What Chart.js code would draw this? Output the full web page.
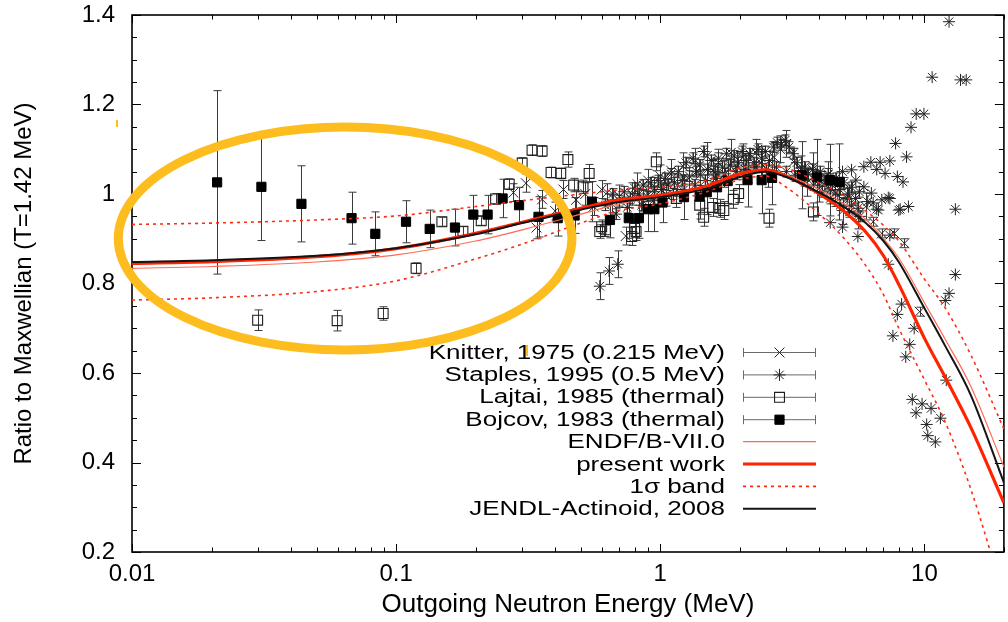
<!DOCTYPE html>
<html>
<head>
<meta charset="utf-8">
<title>Ratio to Maxwellian</title>
<script src="https://cdn.jsdelivr.net/npm/chart.js"></script>
<style>
    html, body { margin: 0; padding: 0; background: #fff; overflow: hidden; }
    #wrap { position: relative; width: 1012px; height: 622px; }
</style>
</head>
<body>
<div id="wrap"><canvas id="chart"></canvas></div>
<script>
// ---- data (outgoing neutron energy in MeV, ratio to Maxwellian) ----
const xTickValues = [0.01, 0.1, 1, 10];
const yTickValues = [0.2, 0.4, 0.6, 0.8, 1, 1.2, 1.4];

const curveE      = [0.01, 0.02, 0.05, 0.1, 0.2, 0.3, 0.5, 0.7, 1, 1.5, 2, 2.5, 3, 4, 5, 6, 7, 8, 10, 12, 15, 20];
const presentWork = [0.845, 0.849, 0.86, 0.878, 0.912, 0.937, 0.968, 0.987, 0.997, 1.018, 1.045, 1.054, 1.04, 1.0, 0.96, 0.915, 0.862, 0.798, 0.678, 0.59, 0.478, 0.31];
const jendl       = [0.848, 0.852, 0.862, 0.879, 0.91, 0.935, 0.965, 0.982, 0.993, 1.012, 1.038, 1.05, 1.038, 1.003, 0.97, 0.935, 0.895, 0.848, 0.745, 0.66, 0.55, 0.355];
const endf        = [0.834, 0.838, 0.848, 0.864, 0.895, 0.92, 0.955, 0.978, 0.993, 1.012, 1.038, 1.05, 1.042, 1.01, 0.977, 0.943, 0.9, 0.857, 0.757, 0.675, 0.57, 0.39];
const bandHi      = [0.932, 0.935, 0.942, 0.951, 0.972, 0.985, 1.0, 1.009, 1.015, 1.03, 1.058, 1.066, 1.058, 1.025, 0.995, 0.962, 0.93, 0.895, 0.81, 0.745, 0.64, 0.475];
const bandLo      = [0.763, 0.768, 0.782, 0.806, 0.855, 0.888, 0.935, 0.963, 0.978, 1.005, 1.032, 1.04, 1.015, 0.955, 0.899, 0.84, 0.775, 0.70, 0.585, 0.49, 0.34, 0.10];

const bojcovE   = [0.021, 0.0309, 0.0438, 0.0678, 0.0834, 0.109, 0.134, 0.167, 0.196, 0.222, 0.253, 0.292, 0.346, 0.409, 0.474, 0.551, 0.645, 0.76, 0.83, 0.899, 0.95, 1.02, 1.23, 1.41, 1.50, 1.64, 1.80, 2.14, 2.42, 2.65, 3.44, 3.92, 4.40, 4.77];
const bojcovR   = [1.026, 1.016, 0.978, 0.946, 0.911, 0.938, 0.922, 0.925, 0.954, 0.954, 0.990, 0.975, 0.949, 0.946, 0.952, 0.983, 0.942, 0.946, 0.946, 0.966, 0.966, 0.981, 0.993, 0.994, 1.004, 1.015, 1.029, 1.031, 1.031, 1.036, 1.042, 1.037, 1.031, 1.027];
const bojcovErr = [0.205, 0.12, 0.085, 0.058, 0.049, 0.047, 0.042, 0.041, 0.043, 0.043, 0.043, 0.040, 0.045, 0.040, 0.040, 0.045, 0.040, 0.045, 0.045, 0.050, 0.050, 0.045, 0.050, 0.050, 0.050, 0.050, 0.050, 0.060, 0.075, 0.060, 0.075, 0.085, 0.080, 0.085];

const lajtaiE   = [0.0299, 0.0598, 0.0893, 0.119, 0.149, 0.179, 0.21, 0.238, 0.268, 0.30, 0.327, 0.357, 0.386, 0.42, 0.447, 0.47, 0.51, 0.538, 0.59, 0.60, 0.62, 0.78, 0.80, 0.81, 0.966, 1.15, 1.41, 1.46, 1.58, 1.68, 1.74, 1.89, 1.98, 2.58, 3.8];
const lajtaiR   = [0.718, 0.717, 0.733, 0.834, 0.938, 0.917, 0.940, 0.989, 1.022, 1.069, 1.098, 1.096, 1.048, 1.046, 1.077, 1.020, 1.016, 1.046, 0.916, 0.927, 0.920, 0.905, 0.923, 0.916, 1.072, 0.990, 0.975, 0.948, 0.970, 0.968, 0.963, 0.988, 1.001, 0.946, 0.960];
const lajtaiErr = [0.023, 0.023, 0.015, 0.012, 0.010, 0.010, 0.010, 0.012, 0.012, 0.012, 0.012, 0.012, 0.012, 0.012, 0.017, 0.015, 0.015, 0.020, 0.015, 0.015, 0.015, 0.020, 0.020, 0.020, 0.020, 0.020, 0.020, 0.020, 0.020, 0.020, 0.020, 0.020, 0.020, 0.020, 0.020];

const knitterE   = [0.278, 0.31, 0.34, 0.357, 0.40, 0.43, 0.48, 0.52, 0.56, 0.60, 0.63, 0.655, 0.70, 0.74, 0.78, 0.82, 0.86, 0.90, 0.95, 1.0,
                    1.05, 1.1, 1.16, 1.22, 1.28, 1.35, 1.42, 1.5, 1.58, 1.66, 1.75, 1.85, 1.95, 2.05, 2.15, 2.3, 2.4, 2.55, 2.7, 2.85,
                    3.0, 3.2, 3.4, 3.6, 3.8, 4.0, 4.3, 4.6, 4.9, 5.2, 5.6, 6.0, 6.4, 6.9, 7.7, 8.4, 9.6];
const knitterR   = [1.003, 1.024, 0.925, 0.988, 0.962, 1.01, 0.987, 1.0, 0.972, 1.01, 1.003, 0.978, 0.995, 0.906, 1.0, 1.022, 0.985, 1.03, 1.012, 1.04,
                    0.998, 1.052, 1.02, 1.062, 1.034, 1.072, 1.044, 1.085, 1.052, 1.07, 1.045, 1.092, 1.062, 1.082, 1.055, 1.092, 1.07, 1.045, 1.082, 1.1,
                    1.112, 1.072, 1.055, 1.025, 1.062, 1.012, 1.042, 1.002, 0.962, 0.99, 0.952, 0.972, 0.938, 0.912, 0.912, 0.89, 0.737];
const knitterErr = [0.020, 0.020, 0.025, 0.020, 0.020, 0.020, 0.020, 0.025, 0.020, 0.020, 0.020, 0.020, 0.025, 0.020, 0.025, 0.025, 0.025, 0.025, 0.025, 0.025,
                    0.025, 0.025, 0.025, 0.030, 0.025, 0.030, 0.025, 0.030, 0.025, 0.030, 0.030, 0.030, 0.030, 0.030, 0.030, 0.030, 0.030, 0.030, 0.030, 0.030,
                    0.030, 0.030, 0.030, 0.030, 0.030, 0.030, 0.030, 0.030, 0.030, 0.030, 0.030, 0.030, 0.010, 0.010, 0.010, 0.010, 0.010];

const staplesE = [0.62, 0.66, 0.70, 0.73, 0.77, 0.80, 0.83, 0.86, 0.89, 0.92, 0.95, 0.98, 1.01, 1.04, 1.07, 1.10, 1.13, 1.17, 1.21, 1.25,
                  1.29, 1.33, 1.37, 1.41, 1.46, 1.51, 1.56, 1.61, 1.66, 1.72, 1.78, 1.84, 1.90, 1.97, 2.04, 2.11, 2.18, 2.26, 2.34, 2.42,
                  2.50, 2.59, 2.68, 2.77, 2.87, 2.97, 3.07, 3.18, 3.29, 3.40, 3.52, 3.64, 3.77, 3.90, 4.03, 4.17, 4.32, 4.47, 4.62, 4.78,
                  4.95, 5.12, 5.30, 5.48, 5.67,
                  0.68, 0.75, 0.85, 0.94, 1.03, 1.12, 1.23, 1.35, 1.48, 1.62, 1.76, 1.93, 2.1, 2.3, 2.52, 2.75, 3.0, 3.25, 3.5, 3.8,
                  4.1, 4.4, 4.8, 5.2, 5.7,
                  0.59, 0.64, 0.69,
                  5.9, 6.27, 6.6, 6.8, 7.1, 7.4, 7.78, 7.9, 8.3, 8.56, 8.9, 9.31, 9.96, 10.7, 12.4, 13.7, 14.4, 7.3, 8.1, 8.7,
                  13.1, 6.6, 5.6, 7.3, 13.1, 12.4, 12.0, 8.2, 7.9, 7.6, 9.15, 8.8, 8.5, 12.1, 9.0, 9.8, 10.6, 9.3, 11.5, 10.2,
                  10.3, 11.0, 4.9, 4.4,
                  3.98, 4.2, 4.4, 4.7, 4.9, 5.1, 5.3, 5.3, 5.5, 5.6, 5.9, 6.1, 6.3, 6.4, 6.7, 6.9, 7.4, 7.4, 8.0];
const staplesR = [0.975, 1.0, 0.985, 1.005, 0.99, 1.013, 1.0, 1.02, 0.995, 1.025, 1.005, 1.03, 1.01, 1.035, 1.02, 1.045, 1.025, 1.05, 1.03, 1.07,
                  1.04, 1.08, 1.05, 1.065, 1.095, 1.055, 1.075, 1.05, 1.08, 1.06, 1.09, 1.065, 1.085, 1.07, 1.095, 1.075, 1.09, 1.07, 1.1, 1.08,
                  1.095, 1.075, 1.105, 1.115, 1.11, 1.12, 1.105, 1.09, 1.07, 1.05, 1.06, 1.045, 1.055, 1.04, 1.05, 1.03, 1.045, 1.02, 1.035, 1.01,
                  1.025, 1.0, 1.015, 0.99, 1.005,
                  0.955, 0.97, 0.975, 0.985, 0.99, 1.0, 1.01, 1.02, 1.03, 1.035, 1.045, 1.05, 1.055, 1.06, 1.055, 1.06, 1.05, 1.04, 1.03, 1.02,
                  1.005, 0.99, 0.975, 0.96, 0.95,
                  0.794, 0.828, 0.843,
                  1.061, 1.071, 1.055, 1.071, 1.046, 1.074, 1.113, 1.039, 1.027, 1.083, 1.149, 1.179, 1.179, 1.261, 1.385, 1.255, 1.255, 0.992, 0.966, 0.972,
                  0.966, 0.966, 0.905, 0.843, 0.82, 0.778, 0.762, 0.754, 0.731, 0.683, 0.700, 0.664, 0.636, 0.584, 0.541, 0.531, 0.521, 0.511, 0.499, 0.485,
                  0.46, 0.446, 0.926, 0.936,
                  1.031, 1.02, 1.009, 0.998, 1.05, 0.99, 1.054, 0.975, 1.031, 0.968, 1.016, 0.983, 1.002, 0.98, 0.964, 0.987, 0.99, 0.908, 0.964];
const staplesErr = [0.012, 0.012, 0.012, 0.012, 0.012, 0.012, 0.012, 0.012, 0.012, 0.012, 0.012, 0.012, 0.012, 0.012, 0.012, 0.012, 0.012, 0.012, 0.012, 0.012,
                    0.012, 0.012, 0.012, 0.012, 0.012, 0.012, 0.012, 0.012, 0.012, 0.012, 0.012, 0.012, 0.012, 0.012, 0.012, 0.012, 0.012, 0.012, 0.012, 0.012,
                    0.012, 0.012, 0.012, 0.012, 0.012, 0.012, 0.012, 0.012, 0.012, 0.012, 0.012, 0.012, 0.012, 0.012, 0.012, 0.012, 0.012, 0.012, 0.012, 0.012,
                    0.012, 0.012, 0.012, 0.012, 0.012,
                    0.012, 0.012, 0.012, 0.012, 0.012, 0.012, 0.012, 0.012, 0.012, 0.012, 0.012, 0.012, 0.012, 0.012, 0.012, 0.012, 0.012, 0.012, 0.012, 0.012,
                    0.012, 0.012, 0.012, 0.012, 0.012,
                    0.030, 0.030, 0.030,
                    0, 0, 0, 0, 0, 0, 0, 0, 0, 0, 0, 0, 0, 0, 0, 0, 0, 0, 0, 0,
                    0, 0, 0, 0, 0, 0, 0, 0, 0, 0, 0, 0, 0, 0, 0, 0, 0, 0, 0, 0,
                    0, 0, 0, 0,
                    0, 0, 0, 0, 0, 0, 0, 0, 0, 0, 0, 0, 0, 0, 0, 0, 0, 0, 0];

const legendOrder = ['Knitter, 1975 (0.215 MeV)', 'Staples, 1995 (0.5 MeV)', 'Lajtai, 1985 (thermal)', 'Bojcov, 1983 (thermal)',
                     'ENDF/B-VII.0', 'present work', '1\u03c3 band', 'JENDL-Actinoid, 2008'];

// ellipse drawn over the low-energy region (data units)
const ellipseCentre = [0.0641, 0.9006];
const ellipseEdges = { left: 0.00887, right: 0.463, top: 1.149, bottom: 0.651 };

const pts = (xs, ys) => xs.map((x, i) => ({ x: x, y: ys[i] }));

Chart.defaults.font.family = "'Liberation Sans', Arial, Helvetica, sans-serif";
Chart.defaults.color = '#000';

// inward gnuplot style ticks on all four sides + frame
const frame = {
    id: 'frame',
    beforeDatasetsDraw(chart) {
        const { ctx, chartArea: a, scales: { x, y } } = chart;
        ctx.save();
        ctx.strokeStyle = '#000';
        ctx.lineWidth = 1;
        const seg = (x1, y1, x2, y2) => { ctx.beginPath(); ctx.moveTo(x1, y1); ctx.lineTo(x2, y2); ctx.stroke(); };
        for (let v = 0.2; v <= 1.4001; v += 0.05) {
            const major = yTickValues.some(t => Math.abs(t - v) < 1e-6);
            const len = major ? 9 : 5;
            const p = Math.round(y.getPixelForValue(v)) + 0.5;
            seg(a.left, p, a.left + len, p);
            seg(a.right, p, a.right - len, p);
        }
        xTickValues.forEach(d => {
            for (let k = 1; k <= 9; k++) {
                const v = d * k;
                if (v > 20.0001) break;
                const len = k === 1 ? 8 : 4.5;
                const p = Math.round(x.getPixelForValue(v)) + 0.5;
                seg(p, a.bottom, p, a.bottom - len);
                seg(p, a.top, p, a.top + len);
            }
        });
        ctx.lineWidth = 1.6;
        ctx.strokeRect(a.left, a.top, a.right - a.left, a.bottom - a.top);
        ctx.restore();
    }
};

// vertical error bars with caps
const errorBars = {
    id: 'errorBars',
    beforeDatasetsDraw(chart) {
        const { ctx, chartArea: a, scales: { y } } = chart;
        ctx.save();
        ctx.beginPath();
        ctx.rect(a.left, a.top, a.right - a.left, a.bottom - a.top);
        ctx.clip();
        ctx.strokeStyle = '#3a3a3a';
        ctx.lineWidth = 1;
        chart.data.datasets.forEach((ds, i) => {
            if (!ds.errors) return;
            const meta = chart.getDatasetMeta(i);
            meta.data.forEach((el, j) => {
                const e = ds.errors[j];
                if (!e) return;
                const v = ds.data[j].y;
                const px = Math.round(el.x) + 0.5;
                const hi = y.getPixelForValue(v + e);
                const lo = y.getPixelForValue(v - e);
                ctx.beginPath();
                ctx.moveTo(px, hi); ctx.lineTo(px, lo);
                ctx.moveTo(px - 4, hi); ctx.lineTo(px + 4, hi);
                ctx.moveTo(px - 4, lo); ctx.lineTo(px + 4, lo);
                ctx.stroke();
            });
        });
        ctx.restore();
    }
};

// gnuplot-like key: text right aligned, sample on the right
const key = {
    id: 'key',
    afterDatasetsDraw(chart) {
        const { ctx } = chart;
        const textRight = 725, sx1 = 743, sx2 = 816, y0 = 352, pitch = 22.4;
        ctx.save();
        legendOrder.forEach((label, i) => {
            const ds = chart.data.datasets.find(d => d.label === label);
            const yy = y0 + i * pitch;
            ctx.save();
            ctx.translate(textRight, yy);
            ctx.scale(1.3, 1);
            ctx.font = "20px 'Liberation Sans', Arial, sans-serif";
            ctx.fillStyle = '#000';
            ctx.textAlign = 'right';
            ctx.textBaseline = 'middle';
            ctx.fillText(label, 0, 1);
            ctx.restore();
            if (ds.showLine) {
                ctx.save();
                ctx.strokeStyle = ds.borderColor;
                ctx.lineWidth = ds.borderWidth;
                ctx.setLineDash(ds.borderDash || []);
                ctx.beginPath(); ctx.moveTo(sx1, yy); ctx.lineTo(sx2, yy); ctx.stroke();
                ctx.restore();
            } else {
                ctx.save();
                ctx.strokeStyle = '#6a6a6a';
                ctx.lineWidth = 1;
                ctx.beginPath();
                ctx.moveTo(sx1, yy + 0.5); ctx.lineTo(sx2, yy + 0.5);
                ctx.moveTo(sx1 + 0.5, yy - 4); ctx.lineTo(sx1 + 0.5, yy + 5);
                ctx.moveTo(sx2 - 0.5, yy - 4); ctx.lineTo(sx2 - 0.5, yy + 5);
                ctx.stroke();
                ctx.strokeStyle = ds.borderColor;
                ctx.fillStyle = ds.backgroundColor;
                ctx.lineWidth = ds.borderWidth;
                Chart.helpers.drawPoint(ctx, { pointStyle: ds.pointStyle, radius: ds.pointRadius, rotation: 0, borderWidth: ds.borderWidth }, (sx1 + sx2) / 2, yy + 0.5);
                ctx.restore();
            }
        });
        ctx.restore();
    }
};

// orange highlight ellipse and two small orange marks
const highlight = {
    id: 'highlight',
    afterDraw(chart) {
        const { ctx, scales: { x, y } } = chart;
        const cx = x.getPixelForValue(ellipseCentre[0]);
        const cy = y.getPixelForValue(ellipseCentre[1]);
        const rx = (x.getPixelForValue(ellipseEdges.right) - x.getPixelForValue(ellipseEdges.left)) / 2;
        const ry = (y.getPixelForValue(ellipseEdges.bottom) - y.getPixelForValue(ellipseEdges.top)) / 2;
        ctx.save();
        ctx.strokeStyle = '#fdbd1f';
        ctx.lineWidth = 9;
        ctx.beginPath();
        ctx.ellipse(cx, cy, rx, ry, 0, 0, Math.PI * 2);
        ctx.stroke();
        ctx.lineWidth = 2;
        ctx.beginPath();
        ctx.moveTo(117, 120); ctx.lineTo(117, 127);
        ctx.moveTo(527, 345); ctx.lineTo(527, 356);
        ctx.stroke();
        ctx.restore();
    }
};

const line = (label, ys, color, width, dash, order) => ({
    label: label, data: pts(curveE, ys), showLine: true, pointRadius: 0,
    borderColor: color, borderWidth: width, borderDash: dash, backgroundColor: color,
    cubicInterpolationMode: 'monotone', order: order
});

new Chart(document.getElementById('chart'), {
    type: 'scatter',
    data: {
        datasets: [
            line('JENDL-Actinoid, 2008', jendl, '#141414', 2, [], 0),
            line('present work', presentWork, '#ff2400', 3.2, [], 1),
            line('ENDF/B-VII.0', endf, '#ff6a55', 1.2, [], 2),
            line('1\u03c3 band', bandHi, '#ff2a10', 1.6, [3, 4], 3),
            line('1\u03c3 band lower', bandLo, '#ff2a10', 1.6, [3, 4], 4),
            { label: 'Bojcov, 1983 (thermal)', data: pts(bojcovE, bojcovR), errors: bojcovErr,
              pointStyle: 'rect', pointRadius: 6.5, backgroundColor: '#000', borderColor: '#000', borderWidth: 1, order: 5 },
            { label: 'Lajtai, 1985 (thermal)', data: pts(lajtaiE, lajtaiR), errors: lajtaiErr,
              pointStyle: 'rect', pointRadius: 7, backgroundColor: 'rgba(0,0,0,0)', borderColor: '#1e1e1e', borderWidth: 1.1, order: 6 },
            { label: 'Staples, 1995 (0.5 MeV)', data: pts(staplesE, staplesR), errors: staplesErr,
              pointStyle: 'star', pointRadius: 6, backgroundColor: '#222', borderColor: '#222', borderWidth: 1, order: 7 },
            { label: 'Knitter, 1975 (0.215 MeV)', data: pts(knitterE, knitterR), errors: knitterErr,
              pointStyle: 'crossRot', pointRadius: 7, backgroundColor: '#222', borderColor: '#222', borderWidth: 1, order: 8 }
        ]
    },
    options: {
        responsive: true,
        maintainAspectRatio: false,
        devicePixelRatio: 1,
        animation: false,
        events: [],
        layout: { padding: { top: 15, right: 2, left: 0, bottom: 0 } },
        plugins: { legend: { display: false }, tooltip: { enabled: false } },
        scales: {
            x: {
                type: 'logarithmic', min: 0.01, max: 20,
                afterFit(s) { s.height = 70; },
                afterBuildTicks(s) { s.ticks = xTickValues.map(v => ({ value: v })); },
                ticks: { callback: v => String(v), font: { size: 24 }, padding: 0, autoSkip: false, maxRotation: 0 },
                grid: { display: false, drawTicks: true, tickLength: 8 },
                border: { display: false },
                title: { display: true, text: 'Outgoing Neutron Energy (MeV)', font: { size: 26 }, padding: { top: 0, bottom: 2 } }
            },
            y: {
                min: 0.2, max: 1.4,
                afterFit(s) { s.width = 132; },
                afterBuildTicks(s) { s.ticks = yTickValues.map(v => ({ value: v })); },
                ticks: { callback: v => String(Math.round(v * 10) / 10), font: { size: 24 }, padding: 0 },
                grid: { display: false, drawTicks: true, tickLength: 17 },
                border: { display: false },
                title: { display: true, text: 'Ratio to Maxwellian (T=1.42 MeV)', font: { size: 24 }, padding: { top: 10, bottom: 0 } }
            }
        }
    },
    plugins: [frame, errorBars, key, highlight]
});
</script>
</body>
</html>
